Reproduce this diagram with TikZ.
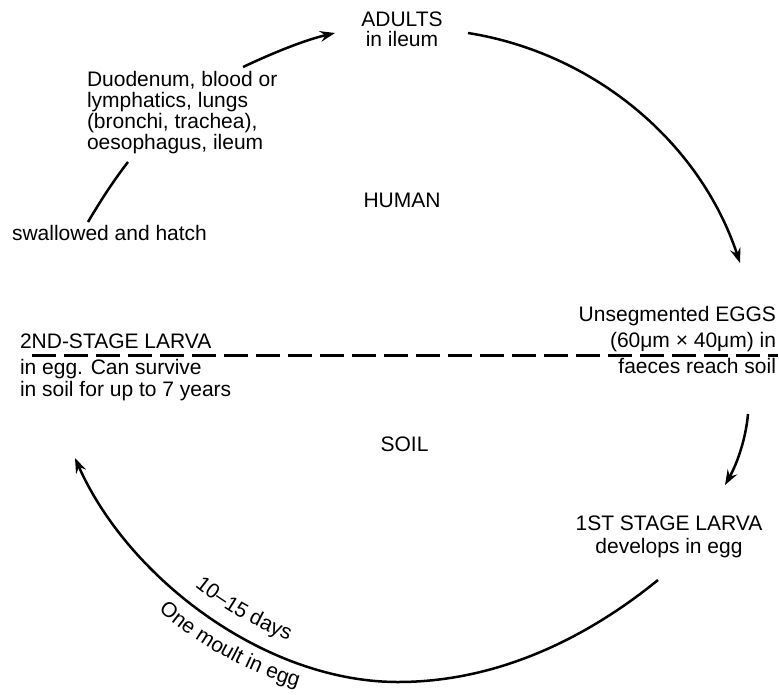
\documentclass[tikz,border=0pt]{standalone}
\usepackage{fontspec}
\setmainfont{Liberation Sans}
\usetikzlibrary{arrows.meta,decorations.text}
\newcommand{\lblfont}{\fontsize{10.5}{12}\selectfont}
\begin{document}
\begin{tikzpicture}[x=0.5pt,y=-0.5pt,
  lbl/.style={inner sep=0pt,outer sep=0pt,font=\lblfont},
  cycle/.style={line width=1.25pt},
  cyclearrow/.style={cycle,-{Stealth[length=7.5pt,width=5.4pt,inset=2.6pt]}},
  border/.style={line width=1.5pt,dash pattern=on 12pt off 4pt},
  arctext/.style={decorate,decoration={text along path,text align=center,text={|\lblfont|#1}}}]
\useasboundingbox (0,0) rectangle (779,694);
% labels
\node[lbl,anchor=north,align=center,font=\fontsize{10.5}{9.7}\selectfont] (adults) at (402,12.2) {ADULTS\\in ileum};
\node[lbl,anchor=north west,align=left,font=\fontsize{10.5}{10.5}\selectfont] (route) at (87,71.4) {Duodenum, blood or\\lymphatics, lungs\\(bronchi, trachea),\\oesophagus, ileum};
\node[lbl,anchor=base west] (swallow) at (12,241) {swallowed and hatch};
\node[lbl,anchor=base] (human) at (402,208) {HUMAN};
\node[lbl,anchor=north west,align=left,font=\fontsize{10.5}{10.85}\selectfont] (larva2) at (20,334.2) {2ND-STAGE LARVA\\[2pt]in egg. Can survive\\in soil for up to 7 years};
\node[lbl,anchor=north east,align=right,font=\fontsize{10.5}{12.8}\selectfont] (eggs) at (776,306.6) {Unsegmented EGGS\\(60μm × 40μm) in\\faeces reach soil};
\node[lbl,anchor=base] (soil) at (404.5,451) {SOIL};
\node[lbl,anchor=north,align=center,font=\fontsize{10.5}{11.7}\selectfont] (larva1) at (669,515.9) {1ST STAGE LARVA\\develops in egg};
% connector end points
\coordinate (a1) at (243,67);
\coordinate (a2) at (335,33);
\coordinate (b1) at (128,162);
\coordinate (b2) at (88,222);
\coordinate (c1) at (468,33);
\coordinate (c2) at (740,263);
\coordinate (d1) at (748,414);
\coordinate (d2) at (725,485);
\coordinate (e1) at (658,580);
\coordinate (ebot) at (398,682);
\coordinate (e2) at (75,458);
\coordinate (h1) at (32,355);
\coordinate (h2) at (778,355);
\coordinate (ctr) at (407,323.5);
% connectors
\draw[cyclearrow] (a1) .. controls (275,52) and (305,40) .. (a2);
\draw[cycle] (b1) .. controls (114,180) and (101,200) .. (b2);
\draw[cyclearrow] (c1) .. controls (594,53) and (700,142) .. (c2);
\draw[cyclearrow] (d1) .. controls (746,437) and (738,462) .. (d2);
\draw[cyclearrow] (e1) .. controls (583,641) and (494,682) .. (ebot)
  .. controls (265,682) and (128,578) .. (e2);
\draw[border] (h1) -- (h2);
% labels along the bottom arc
\path[arctext={10–15 days}] (ctr) ++(145:338) arc[start angle=145,end angle=94.4,radius=338];
\path[arctext={One moult in egg}] (ctr) ++(144:380) arc[start angle=144,end angle=93.6,radius=380];
\end{tikzpicture}
\end{document}
